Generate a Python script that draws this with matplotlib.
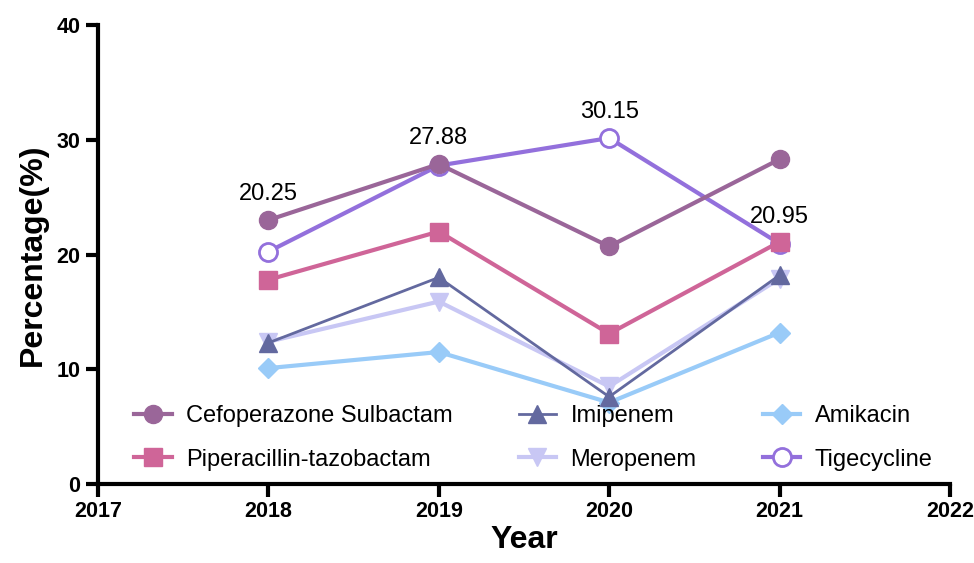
import matplotlib.pyplot as plt

plt.rcParams['font.family'] = ['Liberation Sans', 'DejaVu Sans']

years = [2018, 2019, 2020, 2021]
cefoperazone = [23.0, 27.88, 20.7, 28.3]
piperacillin = [17.8, 22.0, 13.1, 21.1]
imipenem = [12.3, 18.0, 7.6, 18.2]
meropenem = [12.4, 15.9, 8.5, 17.9]
amikacin = [10.1, 11.5, 7.1, 13.2]
tigecycline = [20.25, 27.75, 30.15, 20.95]
tig_labels = ["20.25", "27.88", "30.15", "20.95"]

fig = plt.figure(figsize=(9.74, 5.63), dpi=100)
ax = fig.add_axes([0.1006, 0.1403, 0.8747, 0.8153])

# lines (zorder so the overlaps look like the original)
ax.plot(years, cefoperazone, color='#9a6699', lw=3, marker='o', ms=13, label='Cefoperazone Sulbactam', zorder=8)
ax.plot(years, piperacillin, color='#cf6598', lw=3, marker='s', ms=12.5, label='Piperacillin-tazobactam', zorder=7)
ax.plot(years, imipenem, color='#63699f', lw=2, marker='^', ms=13, label='Imipenem', zorder=6)
ax.plot(years, meropenem, color='#c8c7f4', lw=3, marker='v', ms=13, label='Meropenem', zorder=5)
ax.plot(years, amikacin, color='#99cbf8', lw=3, marker='D', ms=10.5, label='Amikacin', zorder=4)
ax.plot(years, tigecycline, color='#9370dc', lw=3, marker='o', ms=13, mfc='white', mew=2,
        label='Tigecycline', zorder=3)

# value labels for tigecycline
offs = [23.0, 27.88, 30.15, 20.95]
for x, lab, yy in zip(years, tig_labels, offs):
    ax.annotate(lab, (x, yy), xytext=(0, 11), textcoords='offset points',
                ha='center', va='bottom', fontsize=17)

ax.set_xlim(2017, 2022)
ax.set_ylim(0, 40)
ax.set_xticks([2017, 2018, 2019, 2020, 2021, 2022])
ax.set_yticks([0, 10, 20, 30, 40])

for s in ['top', 'right']:
    ax.spines[s].set_visible(False)
for s in ['left', 'bottom']:
    ax.spines[s].set_linewidth(3)
ax.tick_params(width=3, length=9, labelsize=15.5)
for t in ax.get_xticklabels() + ax.get_yticklabels():
    t.set_fontweight('bold')

ax.set_xlabel('Year', fontsize=23, fontweight='bold', labelpad=2)
ax.set_ylabel('Percentage(%)', fontsize=23, fontweight='bold', labelpad=6)

ax.legend(ncol=3, frameon=False, loc='lower left', bbox_to_anchor=(0.02, -0.012),
          fontsize=17, handlelength=1.6, handletextpad=0.6, columnspacing=2.8,
          labelspacing=0.9, borderpad=0.3)

plt.savefig('out.png', dpi=100)
